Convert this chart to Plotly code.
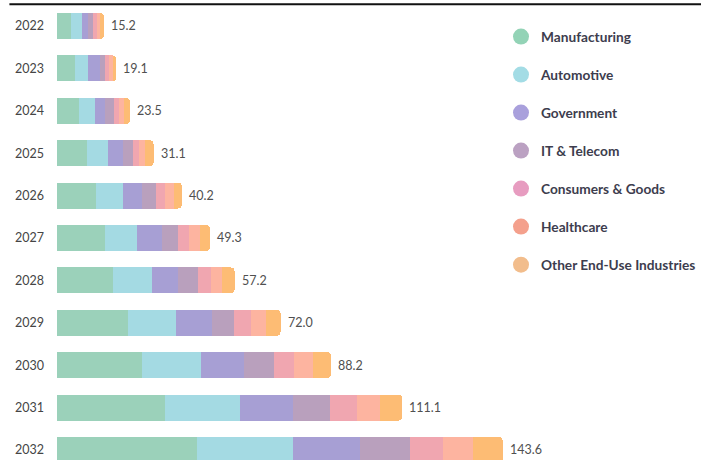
import plotly.graph_objects as go

years = ["2022", "2023", "2024", "2025", "2026", "2027", "2028", "2029", "2030", "2031", "2032"]
totals = [15.2, 19.1, 23.5, 31.1, 40.2, 49.3, 57.2, 72.0, 88.2, 111.1, 143.6]
total_labels = ["15.2", "19.1", "23.5", "31.1", "40.2", "49.3", "57.2", "72.0", "88.2", "111.1", "143.6"]

segments = ["Manufacturing", "Automotive", "Government", "IT & Telecom",
            "Consumers & Goods", "Healthcare", "Other End-Use Industries"]
manufacturing = [4.5, 5.8, 7.1, 9.5, 12.4, 15.3, 17.9, 22.7, 27.5, 34.9, 45.0]
automotive = [3.5, 4.3, 5.2, 6.9, 8.9, 10.6, 12.6, 15.7, 19.0, 23.9, 31.1]
government = [2.1, 3.7, 3.2, 5.0, 6.0, 8.0, 8.5, 11.4, 13.8, 17.3, 21.6]
it_telecom = [1.4, 1.7, 2.7, 3.2, 4.5, 5.1, 6.4, 7.3, 9.6, 11.7, 15.9]
consumers = [1.3, 1.3, 1.9, 1.9, 3.0, 3.6, 4.3, 5.3, 6.4, 8.7, 10.8]
healthcare = [1.1, 1.2, 1.6, 1.9, 2.9, 3.5, 3.5, 4.8, 6.1, 7.4, 9.5]
other = [1.3, 1.1, 1.8, 2.7, 2.5, 3.2, 4.0, 4.8, 5.8, 7.2, 9.6]
series = [manufacturing, automotive, government, it_telecom, consumers, healthcare, other]

bar_colors = ["#9bd1ba", "#a4dae3", "#a79fd4", "#b9a0bd", "#f0a6b0", "#fdb4a0", "#fdbc74"]
legend_colors = ["#93d3b6", "#a3dce5", "#a9a0dc", "#bba1c2", "#e79cc0", "#f4a08c", "#f2bd8c"]

FONT = "Lato"
TEXT_COLOR = "#3d3d4e"

fig = go.Figure()
for name, vals, col in zip(segments, series, bar_colors):
    fig.add_trace(go.Bar(
        y=years, x=vals, orientation="h", name=name,
        marker=dict(color=col, line=dict(width=0)),
        showlegend=False, hoverinfo="x+name",
    ))

for i, (name, col) in enumerate(zip(segments, legend_colors)):
    fig.add_trace(go.Scatter(
        x=[None], y=[None], mode="markers", name=name,
        marker=dict(color=col, size=20, symbol="circle"),
        legendgroup=f"g{i}", showlegend=True,
    ))

for i, (tot, lab) in enumerate(zip(totals, total_labels)):
    fig.add_annotation(x=tot, y=i, text=lab, showarrow=False,
                       xanchor="left", xshift=5,
                       font=dict(family=FONT, size=12.5, color="#505050"))

fig.add_shape(type="line", xref="paper", yref="paper",
              x0=-0.077, x1=1.1, y0=0.991, y1=0.991,
              line=dict(color="#111111", width=2))

fig.update_layout(
    width=701, height=460,
    margin=dict(l=57, r=17, t=0, b=0),
    barmode="stack", bargap=0.387, barcornerradius=4,
    plot_bgcolor="white", paper_bgcolor="white",
    font=dict(family=FONT, color=TEXT_COLOR),
    xaxis=dict(range=[0, 199], visible=False, showgrid=False, zeroline=False),
    yaxis=dict(type="category", categoryorder="array", categoryarray=years,
               range=[10.236, -0.613], showgrid=False, zeroline=False,
               showline=False, ticks="", ticklabelstandoff=12,
               tickfont=dict(family=FONT, size=12.5, color="#454545")),
    legend=dict(x=0.719, y=0.954, xanchor="left", yanchor="top",
                tracegroupgap=17.2, itemwidth=30,
                font=dict(family=FONT, size=13.7, color=TEXT_COLOR, weight=700),
                bgcolor="rgba(0,0,0,0)"),
)

fig.write_html("out.html")
